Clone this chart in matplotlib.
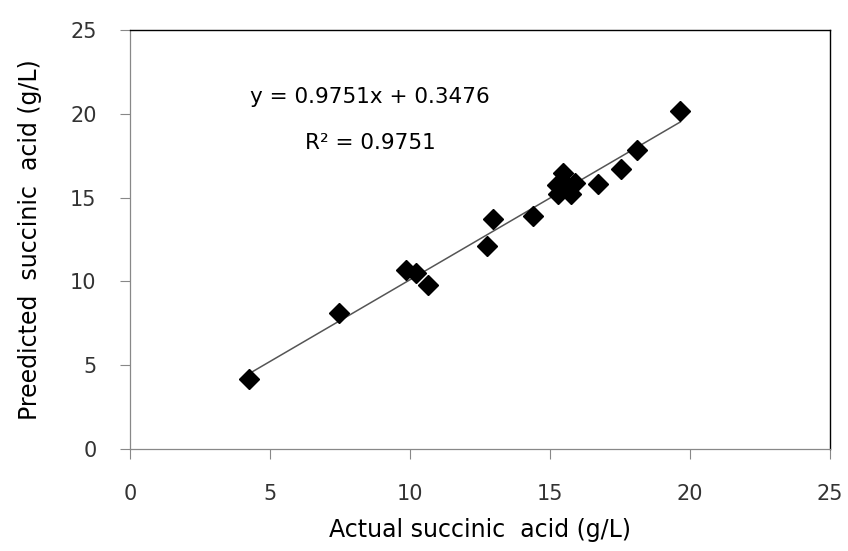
import matplotlib
matplotlib.use("Agg")
import matplotlib.pyplot as plt

# values
actual = [4.25, 7.45, 9.85, 10.2, 10.65, 12.75, 12.95, 14.4,
          15.25, 15.3, 15.45, 15.5, 15.6, 15.75, 15.9, 16.7, 17.55, 18.1, 19.65]
predicted = [4.2, 8.1, 10.7, 10.5, 9.8, 12.1, 13.7, 13.9,
             15.75, 15.2, 16.45, 15.9, 15.5, 15.2, 15.85, 15.8, 16.7, 17.85, 20.15]
slope = 0.9751
intercept = 0.3476
r2 = 0.9751
ticks = [0, 5, 10, 15, 20, 25]

fig = plt.figure(figsize=(8.48, 5.51), dpi=100)
ax = fig.add_axes([0.1533, 0.1851, 0.8255, 0.7605])

x0, x1 = min(actual), max(actual)
ax.plot([x0, x1], [slope * x0 + intercept, slope * x1 + intercept], color="#555555", linewidth=1.1, zorder=2)
ax.plot(actual, predicted, linestyle="none", marker="D", markersize=10, color="black", zorder=3)

ax.set_xlim(0, 25)
ax.set_ylim(0, 25)
ax.set_xticks(ticks)
ax.set_yticks(ticks)
ax.tick_params(axis="x", direction="out", length=7, width=0.8, color="#888888", pad=18,
               labelsize=15, labelcolor="#333333")
ax.tick_params(axis="y", direction="out", length=7, width=0.8, color="#888888", pad=17,
               labelsize=15, labelcolor="#333333")

for side in ("left", "bottom"):
    ax.spines[side].set_color("#888888")
    ax.spines[side].set_linewidth(0.9)
for side in ("top", "right"):
    ax.spines[side].set_color("black")
    ax.spines[side].set_linewidth(1.0)

ax.set_xlabel("Actual succinic  acid (g/L)", fontsize=17, labelpad=10)
ax.set_ylabel("Preedicted  succinic  acid (g/L)", fontsize=17, labelpad=20)

ax.text(0.343, 0.84, f"y = {slope}x + {intercept}", transform=ax.transAxes,
        ha="center", va="center", fontsize=15.5)
ax.text(0.343, 0.73, f"R² = {r2}", transform=ax.transAxes,
        ha="center", va="center", fontsize=15.5)

fig.savefig("out.png", dpi=100)
